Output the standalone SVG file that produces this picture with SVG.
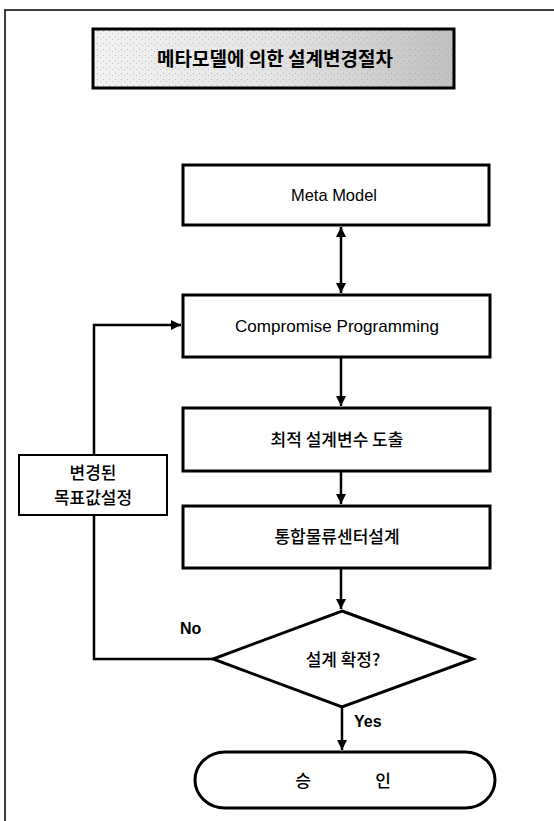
<svg xmlns="http://www.w3.org/2000/svg" width="554" height="821" viewBox="0 0 554 821">
<style>
.box{fill:#fff;stroke:#000;stroke-width:3}
.ln{fill:none;stroke:#000;stroke-width:2.5}
.en{font-family:"Liberation Sans",Arial,sans-serif;font-size:17px;fill:#000}
.ko{font-family:"Noto Sans CJK KR","Noto Sans",sans-serif;font-size:17px;font-weight:500;fill:#000}
.lbl{font-family:"Liberation Sans",Arial,sans-serif;font-size:16px;font-weight:bold;fill:#000}
</style>
<defs>
<marker id="ah" viewBox="0 0 10 10" refX="10" refY="5" markerWidth="4" markerHeight="4" orient="auto-start-reverse" markerUnits="strokeWidth">
<path d="M0,0 L10,5 L0,10 z" fill="#000"/>
</marker>
<linearGradient id="tg" x1="0" y1="0" x2="1" y2="0">
<stop offset="0" stop-color="#f2f2f2"/>
<stop offset="0.5" stop-color="#e4e4e4"/>
<stop offset="1" stop-color="#c0c0c0"/>
</linearGradient>
<pattern id="dots" width="6" height="6" patternUnits="userSpaceOnUse">
<rect x="1" y="1" width="1" height="1" fill="#999"/>
<rect x="4" y="3" width="1" height="1" fill="#aaa"/>
</pattern>
</defs>
<rect width="554" height="821" fill="#fff"/>
<g id="frame">
<path d="M5,821 L5,10 L554,10" fill="none" stroke="#000" stroke-width="1.5"/>
</g>
<g id="title">
<rect x="93" y="29" width="361" height="59" fill="url(#tg)"/>
<rect x="93" y="29" width="361" height="59" fill="url(#dots)" opacity="0.6"/>
<rect x="93" y="29" width="361" height="59" fill="none" stroke="#000" stroke-width="3"/>
<text x="275" y="66" text-anchor="middle" font-family="Noto Sans CJK KR,sans-serif" font-size="19" font-weight="bold">메타모델에 의한 설계변경절차</text>
</g>
<g id="connectors">
<path class="ln" d="M341,227 L341,293" marker-start="url(#ah)" marker-end="url(#ah)"/>
<path class="ln" d="M341,358 L341,406" marker-end="url(#ah)"/>
<path class="ln" d="M341,472 L341,504" marker-end="url(#ah)"/>
<path class="ln" d="M341,569 L341,609" marker-end="url(#ah)"/>
<path class="ln" d="M213,659 L94,659 L94,325 L181,325" marker-end="url(#ah)"/>
<path class="ln" d="M342,707 L342,750" marker-end="url(#ah)"/>
</g>
<g id="meta-model">
<rect class="box" x="183" y="165" width="306" height="60"/>
<text class="en" x="334" y="201" text-anchor="middle" textLength="86" lengthAdjust="spacingAndGlyphs">Meta Model</text>
</g>
<g id="compromise">
<rect class="box" x="183" y="295" width="307" height="62"/>
<text class="en" x="337" y="332" text-anchor="middle" font-size="18" textLength="204" lengthAdjust="spacingAndGlyphs">Compromise Programming</text>
</g>
<g id="optimal">
<rect class="box" x="183" y="408" width="307" height="63"/>
<text class="ko" x="337" y="446" text-anchor="middle">최적 설계변수 도출</text>
</g>
<g id="integrated">
<rect class="box" x="183" y="506" width="307" height="62"/>
<text class="ko" x="337" y="543" text-anchor="middle">통합물류센터설계</text>
</g>
<g id="changed-target">
<rect x="19" y="455" width="148" height="60" fill="#fff" stroke="#000" stroke-width="2"/>
<text class="ko" x="93" y="479" text-anchor="middle" font-size="16">변경된</text>
<text class="ko" x="93" y="504" text-anchor="middle" font-size="16">목표값설정</text>
</g>
<g id="decision">
<polygon points="342,611 473,659 342,707 213,659" fill="#fff" stroke="#000" stroke-width="3"/>
<text class="ko" x="343" y="666" text-anchor="middle" font-size="16">설계 확정?</text>
<text class="lbl" x="180" y="634">No</text>
<text class="lbl" x="354" y="727">Yes</text>
</g>
<g id="approve">
<rect x="195" y="752" width="300" height="56" rx="30" ry="28" fill="#fff" stroke="#000" stroke-width="3"/>
<text class="ko" x="303" y="787" text-anchor="middle">승</text>
<text class="ko" x="383" y="787" text-anchor="middle">인</text>
</g>
</svg>
